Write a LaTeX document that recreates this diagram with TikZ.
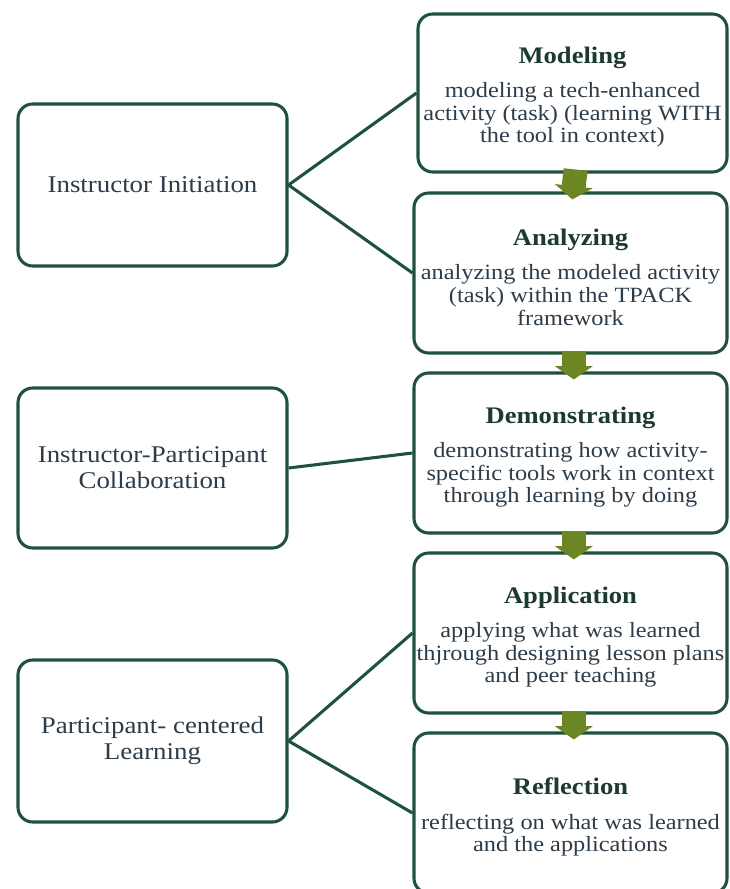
\documentclass[tikz,border=0pt]{standalone}
\usepackage{fontspec}
\setmainfont{Liberation Serif}[FakeStretch=1.12]
\usetikzlibrary{arrows.meta,calc}
\definecolor{bord}{RGB}{30,82,60}
\definecolor{ttl}{RGB}{28,58,48}
\definecolor{txt}{RGB}{45,60,72}
\definecolor{arr}{RGB}{108,134,36}
\tikzset{
  box/.style={draw=bord, line width=2.3pt, rounded corners=11pt, fill=white,
    align=center, inner sep=0pt, text=txt},
  leftbox/.style={box, minimum width=201.75pt, minimum height=121.5pt,
    font=\fontsize{18}{19.5}\selectfont},
  rightbox/.style={box, minimum width=234.75pt, minimum height=120pt,
    font=\fontsize{16.3}{16.9}\selectfont},
  link/.style={draw=bord, line width=2.3pt},
  flow/.style={draw=arr, line width=18pt,
    -{Triangle[width=28pt,length=10pt]}, shorten >=-6pt, shorten <=-3pt},
}
\newcommand{\ttlx}[1]{{\color{ttl}\fontsize{17.8}{17.8}\selectfont\bfseries\rule{0pt}{18.5pt}#1}\\[9pt]}
\begin{document}
\begin{tikzpicture}[x=0.75pt,y=-0.75pt]
\useasboundingbox (0,0) rectangle (729,889);
% left boxes
\node[leftbox] (L1) at (152.5,185) {Instructor Initiation};
\node[leftbox, minimum height=120pt] (L2) at (152.5,468) {Instructor-Participant\\Collaboration};
\node[leftbox] (L3) at (152.5,741) {Participant- centered\\Learning};
% right boxes
\node[rightbox, minimum width=231.75pt, minimum height=118.5pt] (R1) at (572.5,93)
  {\ttlx{Modeling}modeling a tech-enhanced\\activity (task) (learning WITH\\the tool in context)};
\node[rightbox] (R2) at (570.5,273)
  {\ttlx{Analyzing}analyzing the modeled activity\\(task) within the TPACK\\framework};
\node[rightbox] (R3) at (570.5,453)
  {\ttlx{Demonstrating}demonstrating how activity-\\specific tools work in context\\through learning by doing};
\node[rightbox] (R4) at (570.5,633)
  {\ttlx{Application}applying what was learned\\thjrough designing lesson plans\\and peer teaching};
\node[rightbox] (R5) at (570.5,813)
  {\ttlx{Reflection}reflecting on what was learned\\and the applications};
% connectors
\draw[link] (L1.east) -- (R1.west);
\draw[link] (L1.east) -- (R2.west);
\draw[link] (L2.east) -- (R3.west);
\draw[link] (L3.east) -- (R4.west);
\draw[link] (L3.east) -- (R5.west);
% flow arrows
\draw[flow] ([xshift=2pt]R1.south) -- ([xshift=2pt]R2.north);
\draw[flow] ([xshift=2.5pt]R2.south) -- ([xshift=2.5pt]R3.north);
\draw[flow] ([xshift=2.5pt]R3.south) -- ([xshift=2.5pt]R4.north);
\draw[flow] ([xshift=2.5pt]R4.south) -- ([xshift=2.5pt]R5.north);
\end{tikzpicture}
\end{document}
